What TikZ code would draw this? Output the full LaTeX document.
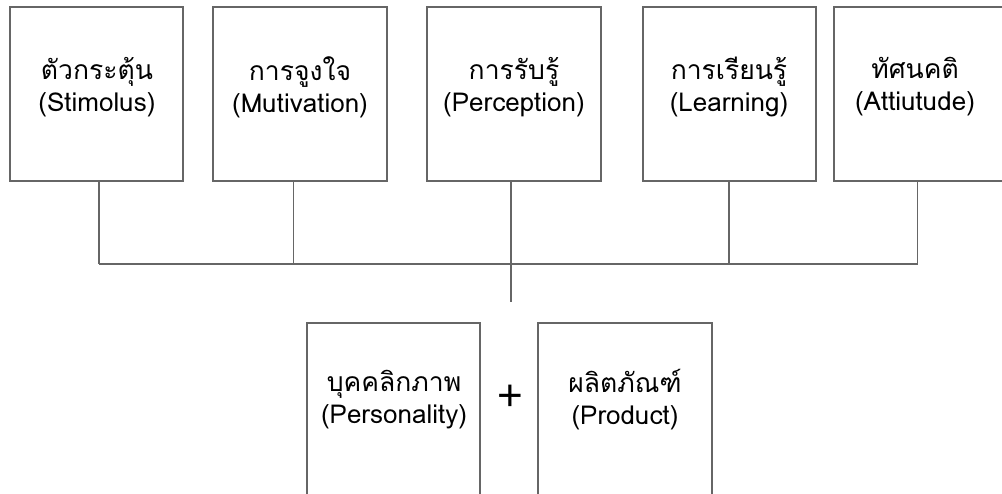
\documentclass[tikz,border=0pt]{standalone}
\usepackage{fontspec}
\newfontfamily\thaifont[Script=Thai,Scale=1.02]{Loma}
\newfontfamily\plusfont{Liberation Sans}
\setmainfont{Loma}
\definecolor{linegray}{HTML}{666666}
\tikzset{
  box/.style={draw=linegray, line width=1.5pt, fill=white, inner sep=0pt},
  conn/.style={draw=linegray, line width=1.5pt},
  lbl/.style={align=center, font=\fontsize{26}{32}\selectfont, text=black}
}
\begin{document}
\begin{tikzpicture}[x=1pt,y=-1pt]
\clip (0,0) rectangle (1002,494);
\fill[white] (0,0) rectangle (1002,494);
% top boxes
\draw[box] (10,7) rectangle (183,181);
\node[minimum width=173pt, minimum height=174pt, inner sep=0pt] (b1) at (96.5,94) {};
\draw[box] (213,7) rectangle (387,181);
\node[minimum width=174pt, minimum height=174pt, inner sep=0pt] (b2) at (300,94) {};
\draw[box] (427,7) rectangle (601,181);
\node[minimum width=174pt, minimum height=174pt, inner sep=0pt] (b3) at (514,94) {};
\draw[box] (643,7) rectangle (816,181);
\node[minimum width=173pt, minimum height=174pt, inner sep=0pt] (b4) at (729.5,94) {};
\draw[box] (834,7) rectangle (1010,181);
\node[minimum width=176pt, minimum height=174pt, inner sep=0pt] (b5) at (922,94) {};
% labels
\node[lbl] (t1) at (97,87) {{\thaifont ตัวกระตุ้น}\\(Stimolus)};
\node[lbl] (t2) at (300,87) {{\thaifont การจูงใจ}\\(Mutivation)};
\node[lbl] (t3) at (514,87) {{\thaifont การรับรู้}\\(Perception)};
\node[lbl] (t4) at (729,87) {{\thaifont การเรียนรู้}\\(Learning)};
\node[lbl] (t5) at (915,87) {{\thaifont ทัศนคติ}\\(Attiutude)};
% bottom boxes
\draw[box] (307,323) rectangle (480,510);
\node[minimum width=173pt, minimum height=187pt, inner sep=0pt] (p) at (393.5,416.5) {};
\draw[box] (538,323) rectangle (712,510);
\node[minimum width=174pt, minimum height=187pt, inner sep=0pt] (q) at (625,416.5) {};
\node[lbl] (tp) at (394,400) {{\thaifont บุคคลิกภาพ}\\(Personality)};
\node[lbl] (tq) at (625,400) {{\thaifont ผลิตภัณฑ์}\\(Product)};
\node[font=\plusfont\fontsize{44}{44}\selectfont] (plus) at (510,398) {+};
% connectors
\coordinate (h1) at (99,264);
\coordinate (h2) at (293.5,264);
\coordinate (h3) at (511,264);
\coordinate (h4) at (729,264);
\coordinate (h5) at (917.5,264);
\coordinate (stem) at (511,302);
\draw[conn] (b1.south -| h1) -- (h1);
\draw[conn] (b2.south -| h2) -- (h2);
\draw[conn] (b3.south -| h3) -- (h3);
\draw[conn] (b4.south -| h4) -- (h4);
\draw[conn] (b5.south -| h5) -- (h5);
\draw[conn, line width=2pt] (h1) -- (h5);
\draw[conn] (h3) -- (stem);
\end{tikzpicture}
\end{document}
